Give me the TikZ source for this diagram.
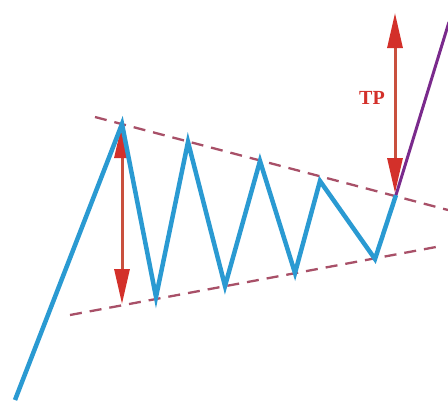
\documentclass[tikz,border=0pt]{standalone}
\usepackage{fontspec}
\setmainfont{Liberation Serif}
\usetikzlibrary{arrows.meta}
\definecolor{wave}{HTML}{2A9AD2}
\definecolor{brk}{HTML}{7A2A8C}
\definecolor{arr}{HTML}{D3302A}
\definecolor{shaft}{HTML}{C9503E}
\definecolor{trend}{HTML}{A85068}
\tikzset{
  waveline/.style={wave, line width=4.5pt, line join=miter},
  trendline/.style={trend, line width=2.3pt, dash pattern=on 12pt off 8pt},
  measure/.style={shaft, line width=3pt,
    {Triangle[length=35pt,width=15pt,color=arr]}-{Triangle[length=35pt,width=15pt,color=arr]}},
}
\begin{document}
\begin{tikzpicture}[x=1pt,y=-1pt]
\useasboundingbox[fill=white] (0,0) rectangle (448,402);
% trend lines
\coordinate (t1) at (95,117);
\coordinate (t2) at (448,210);
\coordinate (b1) at (70,315);
\coordinate (b2) at (436,247);
\draw[trendline] (t1) -- (t2);
\draw[trendline] (b1) -- (b2);
% wave
\coordinate (p0) at (15,400);
\coordinate (p1) at (122,124);
\coordinate (p2) at (156,297);
\coordinate (p3) at (188,142);
\coordinate (p4) at (225,286);
\coordinate (p5) at (260,161);
\coordinate (p6) at (295,273);
\coordinate (p7) at (320,181);
\coordinate (p8) at (375,259);
\coordinate (p9) at (396,195);
\coordinate (p10) at (449,22);
% measure arrows
\coordinate (m1) at (122,123);
\coordinate (m2) at (122,304);
\coordinate (n1) at (395,13);
\coordinate (n2) at (395,193);
\draw[measure] (m1) -- (m2);
\draw[measure] (n1) -- (n2);
\draw[waveline] (p0) -- (p1) -- (p2) -- (p3) -- (p4) -- (p5) -- (p6) -- (p7) -- (p8) -- (p9);
\draw[brk, line width=3pt] (p9) -- (p10);
\node[text=arr, font=\fontsize{20}{20}\selectfont\bfseries] (tp) at (372,98) {TP};
\end{tikzpicture}
\end{document}
